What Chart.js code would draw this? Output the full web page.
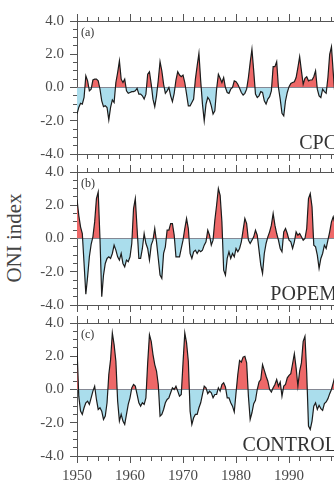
<!DOCTYPE html>
<html>
<head>
<meta charset="utf-8">
<script src="https://cdn.jsdelivr.net/npm/chart.js@4.4.1/dist/chart.umd.min.js"></script>
<style>
  html, body { margin: 0; padding: 0; background: #fff; }
  #wrap { position: relative; width: 334px; height: 500px; overflow: hidden; background: #fff; }
  #wrap canvas { position: absolute; left: 0; }
  #ylab {
    position: absolute; left: 14px; top: 238px;
    transform: translate(-50%, -50%) rotate(-90deg);
    font: 21px "Liberation Serif", serif; color: #444; white-space: nowrap;
  }
</style>
</head>
<body>
<div id="wrap">
  <div id="ylab">ONI index</div>
  <canvas id="pa" width="360" height="169" style="top:0px"></canvas>
  <canvas id="pb" width="360" height="169" style="top:151px"></canvas>
  <canvas id="pc" width="360" height="184" style="top:302px"></canvas>
</div>
<script>
// ONI values, one every 4 months from Jan 1950
const startYear = 1950;
const perYear = 3;

const cpc = [
  -1.6, -1.2, -0.95, -1.0, -0.6, 0.7, 0.4, -0.2, -0.1, 0.45,
  0.5, 0.5, 0.4, -0.1, -0.8, -1.15, -1.1, -1.2, -1.95, -1.2,
  -0.75, -0.9, 0.3, 0.9, 1.6, 0.5, 0.3, 0.5, -0.2, -0.35,
  -0.3, -0.25, -0.25, -0.2, -0.05, -0.4, -0.4, -0.5, -0.7, -0.4,
  0.8, 0.95, 0.2, -0.7, -1.15, -0.5, 0.45, 1.55, 1.0, 0.2,
  -0.35, -0.2, 0.0, -0.5, -0.85, -0.35, 0.45, 0.95, 0.75, 0.65,
  0.75, 0.3, -0.4, -1.1, -1.1, -0.9, -0.7, 0.5, 1.3, 2.05,
  0.4, -1.0, -2.0, -1.0, -0.6, -0.75, -1.1, -1.6, -1.4, -0.1,
  0.8, 0.55, 0.3, 0.6, 0.0, -0.3, -0.35, -0.1, 0.0, 0.4,
  0.35, 0.2, -0.05, -0.3, -0.45, -0.35, -0.1, 0.6, 1.5, 2.3,
  1.0, -0.4, -0.6, -0.5, -0.25, -0.3, -0.8, -1.0, -0.7, -0.55,
  -0.2, 1.25, 1.25, 1.55, 0.0, -0.7, -1.55, -1.7, -0.8, -0.3,
  0.05, 0.25, 0.3, 0.35, 0.6, 1.2, 1.85, 1.0, 0.2, 0.55,
  0.65, 0.4, 0.45, 0.45, 0.65, 1.0, -0.1, -0.5, -0.6, -0.1,
  -0.25, -0.35, 0.6, 2.0, 2.45, 0.9, -0.5, -1.2, -1.5, -1.3
];

const popem = [
  2.35, 1.4, 0.7, 0.3, -1.5, -3.35, -2.3, -1.1, -0.35, 0.1,
  1.0, 2.4, 2.8, 0.0, -3.5, -2.2, -1.5, -1.2, -1.1, -1.2,
  -0.9, -0.4, -0.7, -1.1, -1.3, -0.9, -1.5, -1.7, -1.3, -1.4,
  -1.1, -0.3, 1.8, 2.4, 0.6, -1.2, -1.2, -0.6, 0.3, -0.3,
  -0.6, -1.3, -0.4, -0.1, 0.6, -0.2, -1.2, -2.2, -2.4, -0.9,
  -0.5, 0.5, 0.5, 0.9, 0.9, 0.2, -1.1, -1.1, -1.1, -0.6,
  -0.1, 0.6, 1.2, 0.6, -0.9, -1.2, -0.8, -0.7, -0.9, -0.7,
  -0.8, -0.7, -0.4, -0.2, 0.5, 0.2, -0.4, -0.1, 1.1, 2.0,
  3.0, 2.6, 1.0, -1.9, -2.2, -1.2, -0.8, -1.2, -0.9, -1.1,
  -0.6, -0.8, -0.6, -0.2, 0.5, 1.2, 0.9, -0.1, -0.3, -0.1,
  0.1, 0.5, 0.2, -0.7, -1.6, -2.1, -0.9, -0.3, 0.1, 0.4,
  0.8, 1.5, 0.8, 0.3, -0.1, -0.6, -0.8, 0.4, 0.6, 0.3,
  -0.1, -0.2, -0.6, -0.2, 0.4, 0.2, 0.3, 0.1, -0.1, 0.0,
  0.6, 2.4, 2.7, 1.9, -0.4, -0.5, -1.0, -1.8, -1.2, -0.9,
  -0.4, -0.6, -0.1, 0.4, 1.0, 1.3, 0.9, 0.3, -0.4, -0.8
];

const control = [
  2.5, -0.4, -1.3, -1.5, -1.1, -0.8, -0.7, -0.9, -0.5, -0.1,
  0.2, -0.6, -1.2, -1.1, -1.3, -1.8, -1.6, -0.8, 0.9, 1.8,
  3.4, 2.7, 1.7, -0.7, -1.9, -1.5, -1.9, -2.1, -1.5, -0.9,
  -0.5, 0.1, 0.3, 0.2, -0.3, -0.8, -1.0, -0.8, -0.9, -0.5,
  1.6, 3.3, 2.9, 2.1, 1.5, 1.1, 0.3, -1.6, -1.5, -1.2,
  -0.8, -0.6, -0.5, -0.2, 0.1, 0.0, 0.2, -0.1, -0.4, -0.3,
  1.6, 3.4, 2.8, 1.7, -1.3, -2.1, -1.7, -1.5, -1.5, -1.1,
  -0.8, -0.3, 0.2, 0.1, -0.25, -0.1, -0.2, -0.5, -0.3, -0.3,
  0.1, -0.1, 0.3, 0.4, 0.15, -0.5, -0.5, -0.8, -1.0, -1.35,
  -0.2, 0.9, 1.75, 1.65, 1.95, 2.0, 1.6, -0.4, -1.8, -1.4,
  -0.85, -0.65, 0.0, 0.45, 0.6, 1.5, 1.15, 0.8, 0.5, 0.0,
  -0.15, 0.1, 0.3, 0.6, 0.2, 0.45, -0.4, 0.2, 0.3, 0.7,
  0.85, 0.95, 1.55, 2.15, 1.3, 0.2, 1.1, 1.6, 2.9, 3.2,
  1.0, -2.2, -2.4, -1.9, -1.0, -0.8, -1.2, -0.95, -1.15, -1.25,
  -0.85, -0.75, -0.55, -0.25, 0.0, 0.4, 0.8, 1.2, 0.6, -0.2
];

const years = cpc.map((_, i) => startYear + i / perYear);
const yTickLabels = [-4, -2, 0, 2, 4];
const xTickLabels = [1950, 1960, 1970, 1980, 1990];

const axisColor = '#555';
const textColor = '#4a4a4a';
const serif = '"Liberation Serif", "Times New Roman", serif';

const panelText = {
  id: 'panelText',
  afterDraw(chart, args, opts) {
    const { ctx, chartArea } = chart;
    ctx.save();
    ctx.fillStyle = '#333';
    ctx.font = '12px ' + serif;
    ctx.textBaseline = 'top';
    ctx.fillText(opts.tag, chartArea.left + 4, chartArea.top + 6);
    ctx.font = '20px ' + serif;
    ctx.textAlign = 'right';
    ctx.textBaseline = 'alphabetic';
    ctx.fillText(opts.name, chartArea.right - 4, chartArea.bottom - 5);
    ctx.restore();
  }
};

function makePanel(id, values, tag, name, showYears) {
  const isMajorX = v => v % 10 === 0;
  const isMajorY = v => Math.abs(v / 2 - Math.round(v / 2)) < 1e-6;
  const xRange = { type: 'linear', min: 1950, max: 1999.8 };

  new Chart(document.getElementById(id), {
    type: 'line',
    data: {
      labels: years,
      datasets: [{
        data: values,
        borderColor: '#1c1c1c',
        borderWidth: 1.2,
        pointRadius: 0,
        tension: 0,
        fill: { target: 'origin', above: 'rgb(238,104,104)', below: 'rgb(170,221,236)' }
      }]
    },
    plugins: [panelText],
    options: {
      responsive: false,
      animation: false,
      layout: { padding: { left: 0, right: 19, top: 13, bottom: 0 } },
      plugins: {
        legend: { display: false },
        tooltip: { enabled: false },
        panelText: { tag: tag, name: name }
      },
      scales: {
        x: {
          ...xRange,
          position: 'bottom',
          // room below the plot; the -4.0 label needs at least 15px
          afterFit: s => { s.height = showYears ? 30 : 15; },
          border: { color: axisColor, width: 1 },
          grid: {
            drawOnChartArea: false,
            tickLength: 7,
            tickColor: axisColor,
            tickBorderDash: c => (c.tick && isMajorX(c.tick.value)) ? [] : [4, 20]
          },
          ticks: {
            display: showYears,
            stepSize: 2,
            includeBounds: false,
            autoSkip: false,
            maxRotation: 0,
            padding: 4,
            color: textColor,
            font: { family: serif, size: 15 },
            callback: v => xTickLabels.includes(v) ? String(v) : ''
          }
        },
        x2: {
          ...xRange,
          position: 'top',
          afterFit: s => { s.height = 8; },
          border: { color: axisColor, width: 1 },
          grid: {
            drawOnChartArea: false,
            tickLength: 7,
            tickColor: axisColor,
            tickBorderDash: c => (c.tick && isMajorX(c.tick.value)) ? [] : [0, 3, 20]
          },
          ticks: { display: false, stepSize: 2, includeBounds: false, autoSkip: false }
        },
        y: {
          min: -4,
          max: 4,
          afterFit: s => { s.width = 77; },
          border: { color: axisColor, width: 1 },
          grid: {
            color: c => (c.tick && c.tick.value === 0) ? '#4f6c7c' : 'rgba(0,0,0,0)',
            lineWidth: 1,
            tickLength: 7,
            tickColor: axisColor,
            tickBorderDash: c => (c.tick && isMajorY(c.tick.value)) ? [] : [0, 3, 20]
          },
          ticks: {
            stepSize: 0.5,
            autoSkip: false,
            padding: 6,
            color: textColor,
            font: { family: serif, size: 15 },
            callback: v => yTickLabels.some(t => Math.abs(t - v) < 1e-6) ? v.toFixed(1) : ''
          }
        }
      }
    }
  });
}

makePanel('pa', cpc, '(a)', 'CPC', false);
makePanel('pb', popem, '(b)', 'POPEM', false);
makePanel('pc', control, '(c)', 'CONTROL', true);
</script>
</body>
</html>
